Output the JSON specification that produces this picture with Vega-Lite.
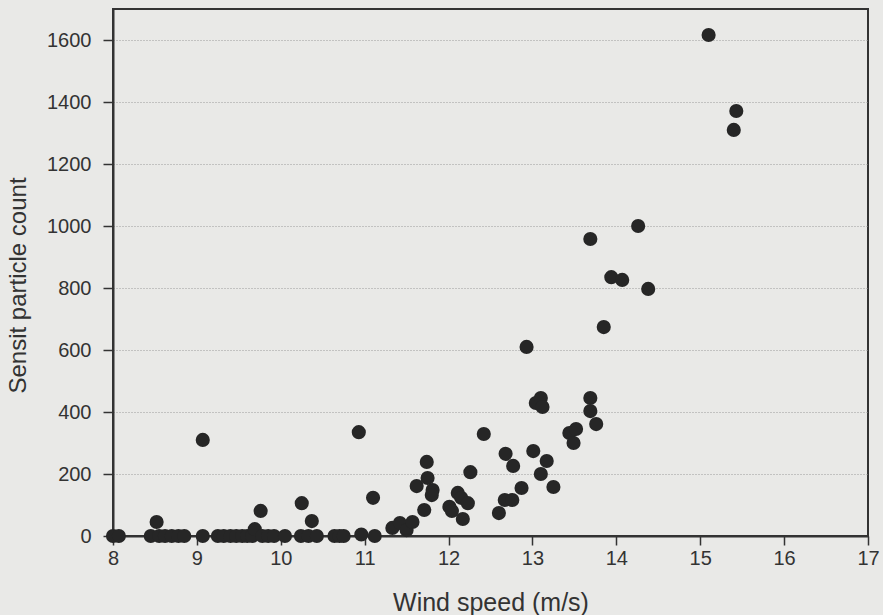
{
  "$schema": "https://vega.github.io/schema/vega-lite/v6.json",
  "width": 755,
  "height": 527,
  "autosize": "none",
  "padding": {"left": 113, "top": 9, "right": 15, "bottom": 79},
  "background": "#e9e9e7",
  "config": {
    "view": {"stroke": "#333333", "strokeWidth": 2},
    "font": "Liberation Sans"
  },
  "data": {
    "values": [
      {"wind": 8.0, "count": 0}, {"wind": 8.07, "count": 0},
      {"wind": 8.45, "count": 0}, {"wind": 8.52, "count": 45}, {"wind": 8.55, "count": 0}, {"wind": 8.62, "count": 0},
      {"wind": 8.7, "count": 0}, {"wind": 8.78, "count": 0}, {"wind": 8.85, "count": 0},
      {"wind": 9.07, "count": 0}, {"wind": 9.07, "count": 310},
      {"wind": 9.25, "count": 0}, {"wind": 9.32, "count": 0}, {"wind": 9.4, "count": 0}, {"wind": 9.47, "count": 0},
      {"wind": 9.54, "count": 0}, {"wind": 9.6, "count": 0}, {"wind": 9.66, "count": 0}, {"wind": 9.69, "count": 22},
      {"wind": 9.76, "count": 81}, {"wind": 9.78, "count": 0}, {"wind": 9.85, "count": 0}, {"wind": 9.92, "count": 0},
      {"wind": 10.05, "count": 0}, {"wind": 10.24, "count": 0}, {"wind": 10.25, "count": 106}, {"wind": 10.33, "count": 0},
      {"wind": 10.37, "count": 48}, {"wind": 10.43, "count": 0}, {"wind": 10.64, "count": 0}, {"wind": 10.7, "count": 0},
      {"wind": 10.75, "count": 0}, {"wind": 10.93, "count": 335}, {"wind": 10.96, "count": 5}, {"wind": 11.1, "count": 123},
      {"wind": 11.12, "count": 0},
      {"wind": 11.33, "count": 26}, {"wind": 11.42, "count": 42}, {"wind": 11.5, "count": 19}, {"wind": 11.57, "count": 45},
      {"wind": 11.62, "count": 161}, {"wind": 11.71, "count": 84}, {"wind": 11.74, "count": 239}, {"wind": 11.75, "count": 187},
      {"wind": 11.81, "count": 148}, {"wind": 11.8, "count": 132},
      {"wind": 12.01, "count": 94}, {"wind": 12.04, "count": 81}, {"wind": 12.11, "count": 139}, {"wind": 12.15, "count": 123},
      {"wind": 12.17, "count": 55}, {"wind": 12.23, "count": 106}, {"wind": 12.26, "count": 206}, {"wind": 12.42, "count": 329},
      {"wind": 12.6, "count": 74}, {"wind": 12.67, "count": 116}, {"wind": 12.68, "count": 265}, {"wind": 12.76, "count": 116},
      {"wind": 12.77, "count": 226}, {"wind": 12.87, "count": 155}, {"wind": 12.93, "count": 610},
      {"wind": 13.01, "count": 274}, {"wind": 13.04, "count": 429}, {"wind": 13.1, "count": 445}, {"wind": 13.12, "count": 416},
      {"wind": 13.1, "count": 200}, {"wind": 13.17, "count": 242}, {"wind": 13.25, "count": 158},
      {"wind": 13.44, "count": 332}, {"wind": 13.52, "count": 345}, {"wind": 13.49, "count": 300},
      {"wind": 13.69, "count": 958}, {"wind": 13.69, "count": 445}, {"wind": 13.69, "count": 403}, {"wind": 13.76, "count": 361},
      {"wind": 13.85, "count": 674}, {"wind": 13.94, "count": 835}, {"wind": 14.07, "count": 826}, {"wind": 14.26, "count": 1000},
      {"wind": 14.38, "count": 797},
      {"wind": 15.1, "count": 1616}, {"wind": 15.43, "count": 1371}, {"wind": 15.4, "count": 1310}
    ]
  },
  "mark": {"type": "circle", "size": 200, "color": "#262626", "opacity": 1, "clip": false},
  "encoding": {
    "x": {
      "field": "wind",
      "type": "quantitative",
      "scale": {"domain": [8, 17], "nice": false, "zero": false},
      "axis": {
        "title": "Wind speed (m/s)",
        "values": [8, 9, 10, 11, 12, 13, 14, 15, 16, 17],
        "format": "d",
        "grid": false,
        "domainColor": "#333333",
        "domainWidth": 2,
        "tickColor": "#333333",
        "tickSize": 9,
        "tickWidth": 1.5,
        "labelFontSize": 20,
        "labelColor": "#333333",
        "labelPadding": 3,
        "labelFlush": false,
        "labelOverlap": false,
        "titleFontSize": 25,
        "titleFontWeight": "normal",
        "titleColor": "#333333",
        "titleBaseline": "alphabetic",
        "titleY": 74
      }
    },
    "y": {
      "field": "count",
      "type": "quantitative",
      "scale": {"domain": [0, 1700], "nice": false},
      "axis": {
        "title": "Sensit particle count",
        "values": [0, 200, 400, 600, 800, 1000, 1200, 1400, 1600],
        "format": "d",
        "grid": true,
        "gridColor": "#9a9a9a",
        "gridDash": [1, 2],
        "gridWidth": 1,
        "domainColor": "#333333",
        "domainWidth": 2,
        "tickColor": "#333333",
        "tickSize": 10,
        "tickWidth": 1.5,
        "labelFontSize": 20,
        "labelColor": "#333333",
        "labelPadding": 12,
        "labelFlush": false,
        "titleFontSize": 24,
        "titleFontWeight": "normal",
        "titleColor": "#333333",
        "titleBaseline": "alphabetic",
        "titleX": -88,
        "titleY": 276
      }
    }
  }
}
